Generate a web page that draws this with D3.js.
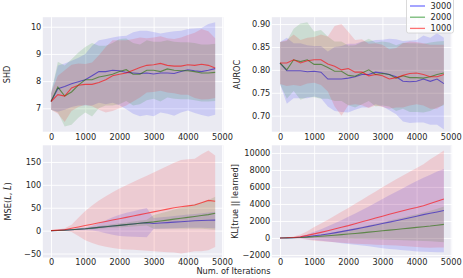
<!DOCTYPE html>
<html><head><meta charset="utf-8">
<script src="https://cdn.jsdelivr.net/npm/d3@7"></script>
<style>body{margin:0;background:#fff}svg{display:block}text{font-family:"DejaVu Sans",sans-serif}</style>
</head><body>
<script>
// ---- data ----
const iterations = [0,200,400,600,800,1000,1200,1400,1600,1800,2000,2200,2400,2600,2800,3000,3200,3400,3600,3800,4000,4200,4400,4600,4800];
const seriesNames = ["3000","2000","1000"];
const seriesColors = ["#0000ff","#008000","#ff0000"];
const xTicks = [0,1000,2000,3000,4000,5000];

const shd3000 = [7.25,7.72,7.8,7.9,7.98,8.05,8.2,8.35,8.35,8.4,8.38,8.32,8.3,8.28,8.3,8.26,8.3,8.3,8.28,8.35,8.42,8.38,8.35,8.4,8.46];
const shd3000sd = [0.3,0.85,0.85,0.85,0.88,0.95,1.1,1.15,1.2,1.2,1.27,1.35,1.5,1.57,1.55,1.55,1.45,1.5,1.55,1.5,1.5,1.55,1.6,1.7,1.7];
const shd2000 = [7.25,7.78,7.45,7.6,7.85,8.05,8.05,8.15,8.2,8.25,8.35,8.42,8.25,8.25,8.4,8.4,8.35,8.45,8.4,8.38,8.38,8.35,8.3,8.3,8.32];
const shd2000sd = [0.3,0.93,1.12,1.2,1.2,1.2,1.35,1.15,1.1,1.15,1.2,1.15,1.15,1.1,1.1,1.05,1.1,1.05,1.05,1.05,1.05,1.05,1.05,1.05,1.05];
const shd1000 = [7.25,7.5,7.45,7.75,7.85,7.88,7.88,7.95,8.05,8.2,8.25,8.3,8.4,8.5,8.58,8.6,8.65,8.58,8.55,8.55,8.6,8.58,8.62,8.58,8.48];
const shd1000sd = [0.3,0.7,0.95,0.85,0.8,0.75,0.8,1.0,1.2,1.3,1.25,1.2,1.15,1.1,1.0,1.0,1.0,1.0,1.0,1.05,1.1,1.2,1.3,1.25,1.1];

const au3000 = [0.815,0.798,0.798,0.798,0.796,0.797,0.795,0.78,0.78,0.78,0.782,0.785,0.79,0.79,0.795,0.793,0.79,0.785,0.775,0.774,0.775,0.78,0.775,0.78,0.77];
const au3000sd = [0.046,0.072,0.06,0.06,0.058,0.055,0.057,0.06,0.07,0.072,0.075,0.072,0.072,0.072,0.07,0.073,0.078,0.082,0.088,0.09,0.09,0.095,0.095,0.1,0.1];
const au2000 = [0.815,0.8,0.822,0.818,0.822,0.812,0.812,0.805,0.797,0.797,0.788,0.786,0.793,0.8,0.79,0.792,0.79,0.782,0.787,0.783,0.783,0.782,0.785,0.79,0.793];
const au2000sd = [0.046,0.063,0.068,0.083,0.082,0.072,0.075,0.068,0.065,0.065,0.065,0.068,0.068,0.068,0.07,0.07,0.07,0.072,0.072,0.075,0.075,0.075,0.075,0.072,0.07];
const au1000 = [0.815,0.815,0.822,0.815,0.82,0.822,0.822,0.813,0.808,0.8,0.803,0.795,0.795,0.787,0.79,0.787,0.78,0.783,0.788,0.792,0.793,0.79,0.785,0.785,0.79];
const au1000sd = [0.046,0.05,0.055,0.05,0.05,0.05,0.055,0.06,0.088,0.1,0.08,0.07,0.072,0.07,0.068,0.068,0.065,0.065,0.07,0.07,0.068,0.068,0.07,0.07,0.065];

const mse3000 = [0,0.3,1,2,3,4,5.5,7,8.5,10,11.5,13,14.5,16,17.5,15.5,16.5,17.5,18.5,19.5,20.5,21.5,22,22.5,23];
const mse3000sd = [0,0.2,0.5,1,2,3,5,9,14,19,23,26,28,30,32,12,12.5,13,13.5,14,14.5,15,16,17,18];
const mse2000 = [0,0.3,1,2,3,4,5.5,7,8.5,10,11.5,13,14.5,16,17.5,19,21,23,25,27,29,31,33,35,38];
const mse2000sd = [0,0.2,0.5,1,1.5,2,2.5,3,3.5,4,4.5,5,5.5,6,6.5,15,17,19,21,23,25,27,29,32,36];
const mse1000 = [0,1,2,5,8,11,14,17,20,23,26,29,32,35,38,41,44,47,50,52,54,56,61,66,64];
const mse1000sd = [1,1.5,3,8,20,32,41,49,55,61,66,70,74,78,82,86,90,94,98,102,102,101,106,109,100];

const kl3000 = [0,10,30,80,150,250,350,470,600,740,890,1040,1200,1360,1520,1690,1860,2030,2200,2380,2560,2740,2900,3060,3220];
const kl3000sd = [0,20,60,150,300,480,680,900,1120,1350,1600,1850,2100,2350,2620,2900,3150,3400,3650,3900,4150,4350,4550,4750,4900];
const kl2000 = [0,5,20,50,100,150,200,260,320,390,460,530,600,680,760,840,920,1000,1080,1160,1240,1320,1400,1500,1600];
const kl2000sd = [0,10,30,60,100,160,230,300,380,460,550,640,730,820,920,1020,1120,1230,1340,1450,1560,1680,1800,1950,2100];
const kl1000 = [0,20,60,150,300,480,660,850,1050,1250,1450,1670,1900,2120,2340,2560,2780,3000,3200,3400,3580,3780,4050,4320,4580];
const kl1000sd = [0,30,100,250,500,800,1050,1300,1560,1820,2080,2340,2600,2870,3130,3400,3650,3900,4150,4400,4650,4900,5200,5450,5700];

const shdTicks = [7,8,9,10];
const aurocTicks = [0.70,0.75,0.80,0.85,0.90];
const mseTicks = [-50,0,50,100,150];
const klTicks = [-2000,0,2000,4000,6000,8000,10000];

// ---- layout ----
const W = 463, H = 278;
const TXT = "#262626", FS = 8.2;
const colL = [42.8, 223.4], colR = [271.8, 452.1];
const rowT = [17.2, 131.7], rowB = [145.3, 257.5];
const xDomain = [-240, 5040];

const panels = [
  {cx: colL, ry: rowT, dom: [6.14, 10.35], ticks: shdTicks, fmt: d3.format("d"), means: [shd3000, shd2000, shd1000], sds: [shd3000sd, shd2000sd, shd1000sd], label: "SHD", lx: 7},
  {cx: colR, ry: rowT, dom: [0.665, 0.915], ticks: aurocTicks, fmt: d3.format(".2f"), means: [au3000, au2000, au1000], sds: [au3000sd, au2000sd, au1000sd], label: "AUROC", lx: 236.5},
  {cx: colL, ry: rowB, dom: [-58.7, 186.3], ticks: mseTicks, fmt: d3.format("d"), means: [mse3000, mse2000, mse1000], sds: [mse3000sd, mse2000sd, mse1000sd], label: "MSE", lx: 8},
  {cx: colR, ry: rowB, dom: [-2300, 10900], ticks: klTicks, fmt: d3.format("d"), means: [kl3000, kl2000, kl1000], sds: [kl3000sd, kl2000sd, kl1000sd], label: "KL[true || learned]", lx: 235}
];

const svg = d3.select("body").append("svg").attr("width", W).attr("height", H);

panels.forEach((p, pi) => {
  const x = d3.scaleLinear().domain(xDomain).range(p.cx);
  const y = d3.scaleLinear().domain(p.dom).range([p.ry[1], p.ry[0]]);
  const g = svg.append("g");
  g.append("rect").attr("x", p.cx[0]).attr("y", p.ry[0])
    .attr("width", p.cx[1] - p.cx[0]).attr("height", p.ry[1] - p.ry[0]).attr("fill", "#EAEAF2");
  const clipId = "clip" + pi;
  g.append("clipPath").attr("id", clipId).append("rect").attr("x", p.cx[0]).attr("y", p.ry[0])
    .attr("width", p.cx[1] - p.cx[0]).attr("height", p.ry[1] - p.ry[0]);
  // grid + tick labels
  const gx = g.append("g").attr("transform", `translate(0,${p.ry[1]})`)
    .call(d3.axisBottom(x).tickValues(xTicks).tickSize(-(p.ry[1] - p.ry[0])).tickPadding(2).tickFormat(d3.format("d")));
  const gy = g.append("g").attr("transform", `translate(${p.cx[0]},0)`)
    .call(d3.axisLeft(y).tickValues(p.ticks).tickSize(-(p.cx[1] - p.cx[0])).tickPadding(1.5).tickFormat(p.fmt));
  [gx, gy].forEach(a => {
    a.select(".domain").remove();
    a.selectAll("line").attr("stroke", "#fff").attr("stroke-width", 0.9);
    a.selectAll("text").attr("fill", TXT).style("font-size", FS + "px").style("font-family", "DejaVu Sans");
  });
  const plot = g.append("g").attr("clip-path", `url(#${clipId})`);
  p.means.forEach((m, si) => {
    const sd = p.sds[si];
    const area = d3.area().x((d, i) => x(iterations[i])).y0((d, i) => y(m[i] - sd[i])).y1((d, i) => y(m[i] + sd[i]));
    plot.append("path").attr("d", area(m)).attr("fill", seriesColors[si]).attr("fill-opacity", 0.13);
    const line = d3.line().x((d, i) => x(iterations[i])).y(d => y(d));
    plot.append("path").attr("d", line(m)).attr("fill", "none").attr("stroke", seriesColors[si])
      .attr("stroke-opacity", 0.6).attr("stroke-width", 1.1);
  });
  // y label
  const cy = (p.ry[0] + p.ry[1]) / 2;
  const t = svg.append("text").attr("transform", `translate(${p.lx},${cy}) rotate(-90)`)
    .attr("text-anchor", "middle").attr("dominant-baseline", "central")
    .attr("fill", TXT).style("font-size", FS + "px");
  if (p.label === "MSE") {
    t.append("tspan").text("MSE(");
    t.append("tspan").attr("font-style", "italic").text("L");
    t.append("tspan").text(", ");
    t.append("tspan").attr("font-style", "italic").text("L\u0302");
    t.append("tspan").text(")");
  } else {
    t.text(p.label);
  }
});

// common x label
svg.append("text").attr("x", 233.5).attr("y", 274).attr("text-anchor", "middle")
  .attr("fill", TXT).style("font-size", FS + "px").text("Num. of Iterations");

// legend
const lg = svg.append("g");
lg.append("rect").attr("x", 406.5).attr("y", -2).attr("width", 47).attr("height", 35).attr("rx", 2)
  .attr("fill", "#fff").attr("fill-opacity", 0.8).attr("stroke", "#d0d0d0").attr("stroke-width", 0.8);
seriesNames.forEach((n, i) => {
  const yy = 6 + i * 11.2;
  lg.append("line").attr("x1", 410).attr("x2", 425).attr("y1", yy).attr("y2", yy)
    .attr("stroke", seriesColors[i]).attr("stroke-opacity", 0.55).attr("stroke-width", 1.3);
  lg.append("text").attr("x", 430.5).attr("y", yy).attr("dominant-baseline", "central")
    .attr("fill", TXT).style("font-size", FS + "px").text(n);
});
</script>
</body></html>
